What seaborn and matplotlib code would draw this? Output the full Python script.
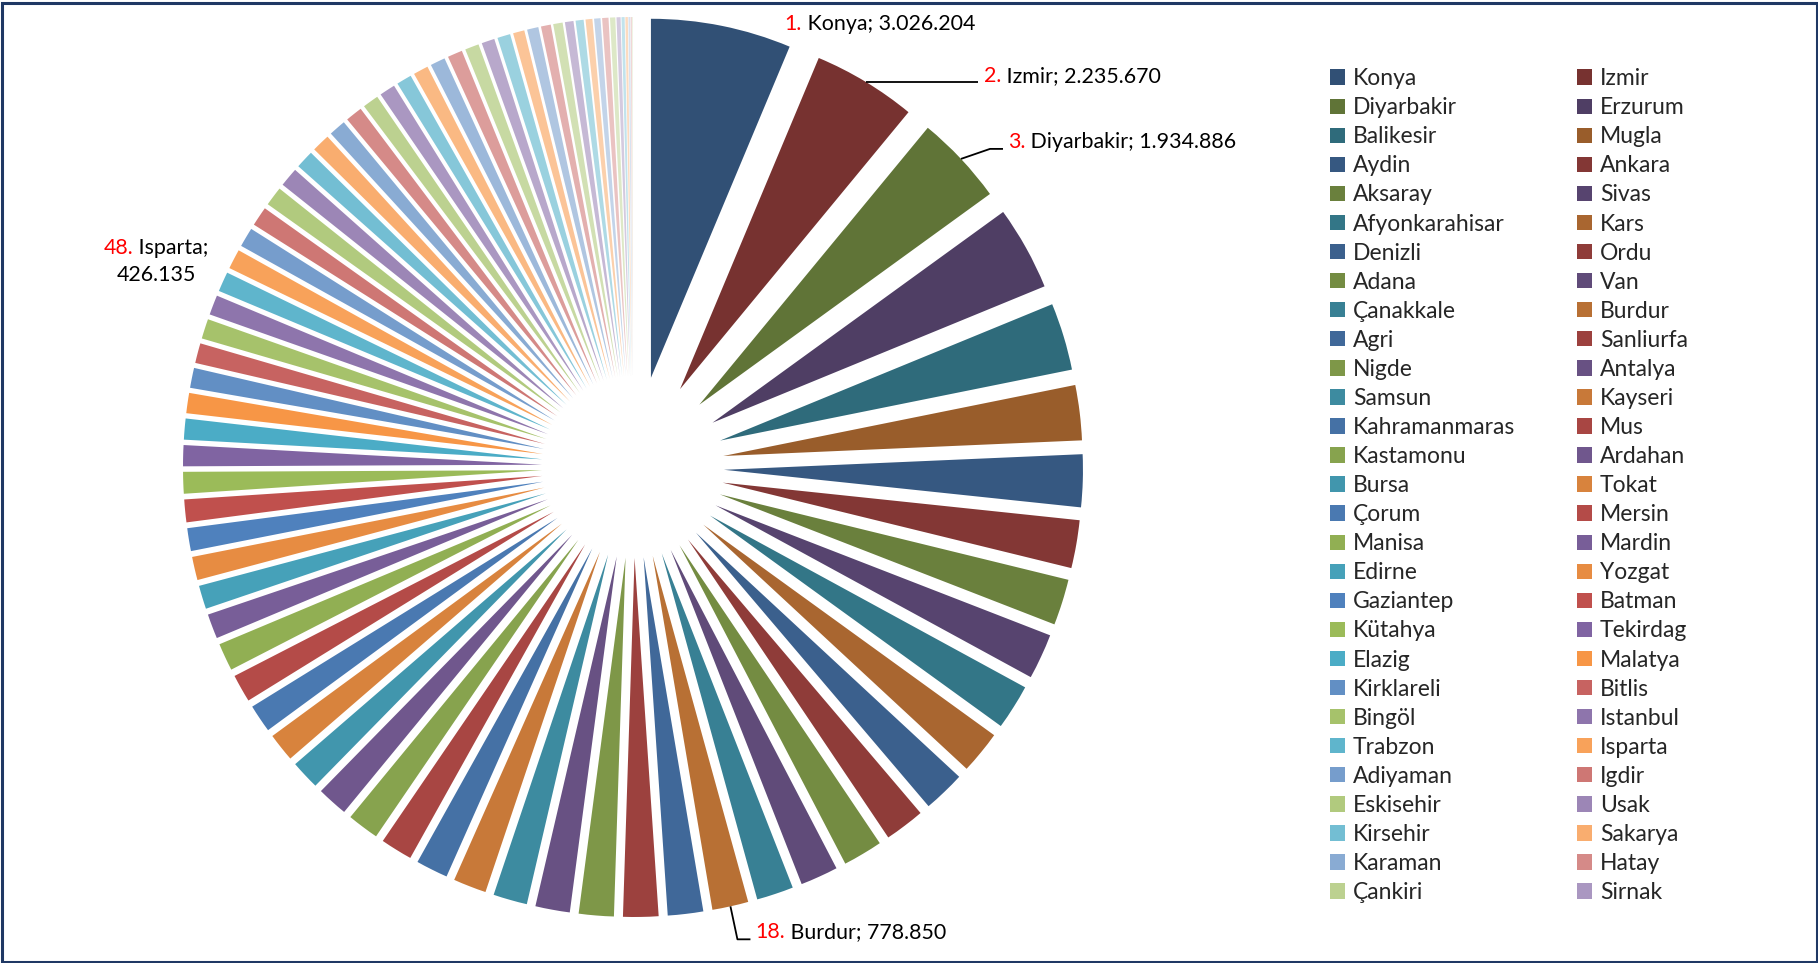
import numpy as np
import matplotlib
matplotlib.use("Agg")
import matplotlib.pyplot as plt
import seaborn as sns
from matplotlib.colors import to_rgb
from matplotlib.patches import Rectangle
from matplotlib.offsetbox import TextArea, HPacker, VPacker, AnnotationBbox

# provinces in rank order (the last 23 are not shown in the legend)
provinces = [
    "Konya", "Izmir", "Diyarbakir", "Erzurum", "Balikesir", "Mugla",
    "Aydin", "Ankara", "Aksaray", "Sivas", "Afyonkarahisar", "Kars",
    "Denizli", "Ordu", "Adana", "Van", "Çanakkale", "Burdur",
    "Agri", "Sanliurfa", "Nigde", "Antalya", "Samsun", "Kayseri",
    "Kahramanmaras", "Mus", "Kastamonu", "Ardahan", "Bursa", "Tokat",
    "Çorum", "Mersin", "Manisa", "Mardin", "Edirne", "Yozgat",
    "Gaziantep", "Batman", "Kütahya", "Tekirdag", "Elazig", "Malatya",
    "Kirklareli", "Bitlis", "Bingöl", "Istanbul", "Trabzon", "Isparta",
    "Adiyaman", "Igdir", "Eskisehir", "Usak", "Kirsehir", "Sakarya",
    "Karaman", "Hatay", "Çankiri", "Sirnak",
    "Nevsehir", "Giresun", "Amasya", "Kocaeli", "Erzincan", "Siirt",
    "Bolu", "Sinop", "Hakkari", "Zonguldak", "Kirikkale", "Bilecik",
    "Düzce", "Gümüshane", "Tunceli", "Osmaniye", "Bayburt", "Karabük",
    "Bartin", "Kilis", "Artvin", "Rize", "Yalova",
]
values = [
    3026204, 2235670, 1934886, 1813000, 1453000, 1187000,
    1133000, 1033000, 993000, 980000, 972000, 924000,
    903000, 861000, 853000, 813000, 795000, 778850,
    763000, 760000, 753000, 743000, 733000, 713000,
    691000, 687000, 683000, 664000, 628000, 613000,
    603000, 600000, 595000, 533000, 507000, 504000,
    493000, 490000, 467000, 453000, 452000, 436000,
    431000, 429500, 428500, 427500, 426800, 426135,
    420000, 419000, 416000, 413000, 393000, 391000,
    367000, 365000, 345000, 341000,
    327000, 323000, 322000, 320000, 301000, 281000,
    280000, 245000, 244000, 212000, 203000, 184000,
    172000, 147000, 137000, 136000, 113000, 87000,
    67000, 53000, 40000, 27000, 15000,
]
legend_count = 58
labelled_ranks = [1, 2, 3, 18, 48]

W, H = 1818, 963
sns.set_theme(style="white")
plt.rcParams['font.family'] = ['Lato', 'DejaVu Sans']
FS = 15.4
LEG_FS = 16.5

fig = plt.figure(figsize=(W / 100, H / 100), dpi=100, facecolor="white")
ax = fig.add_axes([0, 0, 1, 1])

# pie geometry in pixels (y up)
cx, cy = 633, H - 467
R = 359
EXPLODE = 91

accents = ['#4F81BD', '#C0504D', '#9BBB59', '#8064A2', '#4BACC6', '#F79646']


def slice_color(i):
    base = np.array(to_rgb(accents[i % 6]))
    r = i // 6
    if r < 6:
        return tuple(base * (0.62 + 0.0633 * r))
    t = 0.11 * (r - 6)
    return tuple(base + (1 - base) * t)


colors = [slice_color(i) for i in range(len(values))]

wedges, _ = ax.pie(values, colors=colors, startangle=90, counterclock=False,
                   radius=R, center=(cx, cy), explode=[EXPLODE] * len(values),
                   wedgeprops=dict(linewidth=0))
ax.set_xlim(0, W)
ax.set_ylim(0, H)
ax.set_aspect('auto')
ax.axis('off')


def arc_point(w):
    m = np.radians((w.theta1 + w.theta2) / 2)
    return w.center[0] + w.r * np.cos(m), w.center[1] + w.r * np.sin(m)


def fmt(v):
    return f"{v:,}".replace(",", ".")


# label layout: leader offsets and text offsets (screen px, y down)
layout = {
    1: dict(leader=None, text=(63, -2), align=(0, 0.5)),
    2: dict(leader=[(0, 0), (112, 0)], text=(118, -6), align=(0, 0.5)),
    3: dict(leader=[(0, 0), (29, -10), (42, -10)], text=(47, -17), align=(0, 0.5)),
    18: dict(leader=[(0, 0), (7, 33), (20, 33)], text=(25, 26), align=(0, 0.5)),
    48: dict(leader=None, text=(-78, 2.5), align=(0.5, 0.5)),
}

for rank in labelled_ranks:
    i = rank - 1
    ax_, ay_ = arc_point(wedges[i])
    spec = layout[rank]
    if spec["leader"]:
        xs = [ax_ + dx for dx, dy in spec["leader"]]
        ys = [ay_ - dy for dx, dy in spec["leader"]]
        ax.plot(xs, ys, color="black", lw=1.3, solid_capstyle="butt")
    red = TextArea(f"{rank}.", textprops=dict(color="red", fontsize=FS))
    if rank == 48:
        line1 = HPacker(children=[red, TextArea(f" {provinces[i]};", textprops=dict(color="black", fontsize=FS))],
                        align="baseline", pad=0, sep=0)
        line2 = TextArea(fmt(values[i]), textprops=dict(color="black", fontsize=FS))
        box = VPacker(children=[line1, line2], align="center", pad=0, sep=5)
    else:
        blk = TextArea(f" {provinces[i]}; {fmt(values[i])}", textprops=dict(color="black", fontsize=FS))
        box = HPacker(children=[red, blk], align="baseline", pad=0, sep=0)
    tx, ty = spec["text"]
    ab = AnnotationBbox(box, (ax_ + tx, ay_ - ty), xycoords="data", box_alignment=spec["align"],
                        frameon=False, pad=0, annotation_clip=False)
    ax.add_artist(ab)

# legend, row-major in two columns
order = list(range(0, legend_count, 2)) + list(range(1, legend_count, 2))
fig.legend([wedges[i] for i in order], [provinces[i] for i in order], ncol=2,
           loc="upper left", bbox_to_anchor=(1330 / W, 1 - 68.2 / H), frameon=False,
           fontsize=LEG_FS, handlelength=0.655, handleheight=0.655, handletextpad=0.35,
           labelspacing=0.352, columnspacing=2.69, borderpad=0, borderaxespad=0)

ax.add_patch(Rectangle((1.5, 1.5), W - 3, H - 4, fill=False, edgecolor="#1F3864",
                       lw=2.2, clip_on=False))

fig.savefig("out.png", dpi=100, facecolor="white")
